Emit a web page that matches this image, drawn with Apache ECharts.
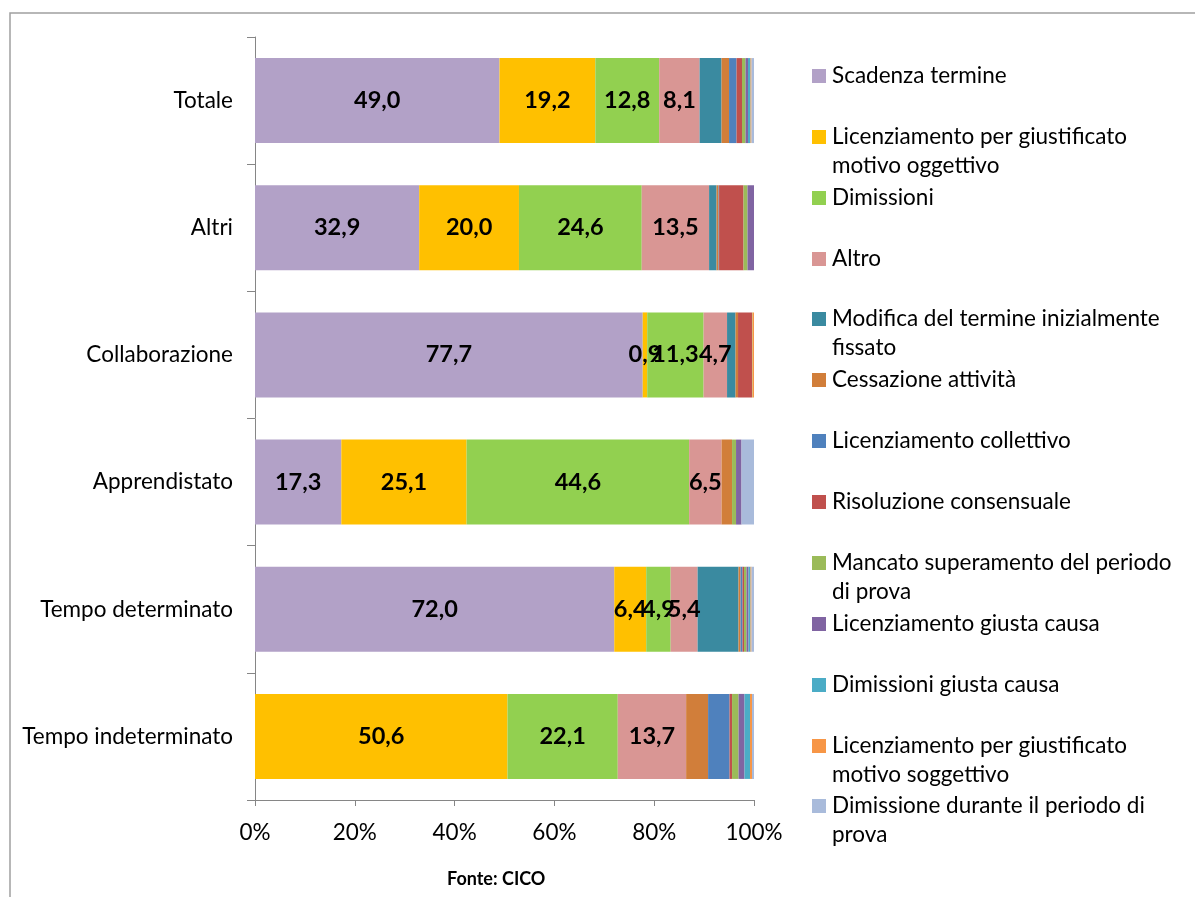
<!DOCTYPE html>
<html>
<head>
<meta charset="utf-8">
<script src="https://cdn.jsdelivr.net/npm/echarts@6/dist/echarts.min.js"></script>
<style>html,body{margin:0;padding:0;background:#fff;}#c{width:1195px;height:897px;}</style>
</head>
<body>
<div id="c"></div>
<script>
const categories = ['Totale', 'Altri', 'Collaborazione', 'Apprendistato', 'Tempo determinato', 'Tempo indeterminato'];
const xTicks = [0, 20, 40, 60, 80, 100];

const scadenza       = [49.0, 32.9, 77.7, 17.3, 72.0, 0];
const oggettivo      = [19.2, 20.0, 0.9, 25.1, 6.4, 50.6];
const dimissioni     = [12.8, 24.6, 11.3, 44.6, 4.9, 22.1];
const altro          = [8.1, 13.5, 4.7, 6.5, 5.4, 13.7];
const modifica       = [4.4, 1.5, 1.7, 0, 8.2, 0];
const cessazione     = [1.5, 0.4, 0.5, 2.1, 0.4, 4.4];
const collettivo     = [1.5, 0.1, 0, 0, 0.4, 4.3];
const risoluzione    = [1.1, 4.9, 2.8, 0, 0.3, 0.5];
const mancato        = [0.7, 0.8, 0.1, 0.8, 0.5, 1.3];
const giustaCausa    = [0.5, 1.3, 0, 1.1, 0.4, 1.2];
const dimGiustaCausa = [0.5, 0, 0, 0, 0.4, 1.1];
const soggettivo     = [0.2, 0, 0.3, 0, 0.2, 0.4];
const periodoProva   = [0.5, 0, 0, 2.5, 0.5, 0.4];

const seriesNames = [
  'Scadenza termine',
  'Licenziamento per giustificato motivo oggettivo',
  'Dimissioni',
  'Altro',
  'Modifica del termine inizialmente fissato',
  'Cessazione attività',
  'Licenziamento collettivo',
  'Risoluzione consensuale',
  'Mancato superamento del periodo di prova',
  'Licenziamento giusta causa',
  'Dimissioni giusta causa',
  'Licenziamento per giustificato motivo soggettivo',
  'Dimissione durante il periodo di prova'
];
const legendLines = [
  ['Scadenza termine'],
  ['Licenziamento per giustificato', 'motivo oggettivo'],
  ['Dimissioni'],
  ['Altro'],
  ['Modifica del termine inizialmente', 'fissato'],
  ['Cessazione attività'],
  ['Licenziamento collettivo'],
  ['Risoluzione consensuale'],
  ['Mancato superamento del periodo', 'di prova'],
  ['Licenziamento giusta causa'],
  ['Dimissioni giusta causa'],
  ['Licenziamento per giustificato', 'motivo soggettivo'],
  ['Dimissione durante il periodo di', 'prova']
];
const seriesValues = [scadenza, oggettivo, dimissioni, altro, modifica, cessazione, collettivo,
  risoluzione, mancato, giustaCausa, dimGiustaCausa, soggettivo, periodoProva];
const colors = ['#b2a1c7', '#ffc000', '#92d050', '#d99694', '#3a8aa0', '#d17e3a', '#4f81bd',
  '#c0504d', '#9bbb59', '#8064a2', '#4bacc6', '#f79646', '#a9bbdb'];

const FONT = 'Lato, "Open Sans", sans-serif';
const legendCenters = [76, 137, 198, 259, 319, 380, 441, 502, 563, 624, 685, 746, 806];
const LH = 29;

const legends = seriesNames.map((name, i) => {
  const two = legendLines[i].length > 1;
  return {
    left: 812,
    top: two ? legendCenters[i] - LH * 1.5 : legendCenters[i] - LH / 2,
    padding: 0,
    orient: 'vertical',
    itemWidth: 14,
    itemHeight: 14,
    icon: 'rect',
    selectedMode: false,
    data: [name],
    formatter: () => two ? '\u00a0\n' + legendLines[i].join('\n') : legendLines[i][0],
    textStyle: {
      fontFamily: FONT, fontSize: 22.5, color: '#000', lineHeight: LH,
      padding: [0, 0, 0, 1]
    }
  };
});

const series = seriesNames.map((name, i) => ({
  name: name,
  type: 'bar',
  stack: 'total',
  barWidth: 85,
  itemStyle: { color: colors[i] },
  label: {
    show: i < 4,
    position: 'inside',
    fontFamily: FONT, fontSize: 23.5, fontWeight: 'bold', color: '#000',
    formatter: p => p.value > 0 ? p.value.toFixed(1).replace('.', ',') : ''
  },
  emphasis: { disabled: true },
  data: seriesValues[i]
}));

const chart = echarts.init(document.getElementById('c'), null, { renderer: 'canvas' });
chart.setOption({
  animation: false,
  backgroundColor: '#fff',
  color: colors,
  grid: { left: 255, right: 441, top: 37, bottom: 97, containLabel: false },
  xAxis: {
    type: 'value', min: 0, max: 100, interval: 20,
    axisLine: { show: true, lineStyle: { color: '#868686', width: 1 } },
    axisTick: { show: true, length: 6, lineStyle: { color: '#868686' } },
    splitLine: { show: false },
    axisLabel: {
      margin: 21, fontFamily: FONT, fontSize: 22.5, color: '#000',
      formatter: v => xTicks.indexOf(v) >= 0 ? v + '%' : ''
    }
  },
  yAxis: {
    type: 'category', data: categories, inverse: true,
    axisLine: { show: true, lineStyle: { color: '#868686', width: 1 } },
    axisTick: { show: true, length: 8, lineStyle: { color: '#868686' } },
    axisLabel: { margin: 22, fontFamily: FONT, fontSize: 22.5, color: '#000' }
  },
  legend: legends,
  series: series,
  graphic: [
    { type: 'rect', shape: { x: 10, y: 13, width: 1200, height: 900 },
      style: { fill: 'none', stroke: '#a0a0a0', lineWidth: 1.5 }, silent: true, z: -1 },
    { type: 'text', left: 447, top: 870,
      style: { text: 'Fonte: CICO', fontFamily: FONT, fontSize: 18, fontWeight: 'bold', fill: '#000' } }
  ]
});
</script>
</body>
</html>
